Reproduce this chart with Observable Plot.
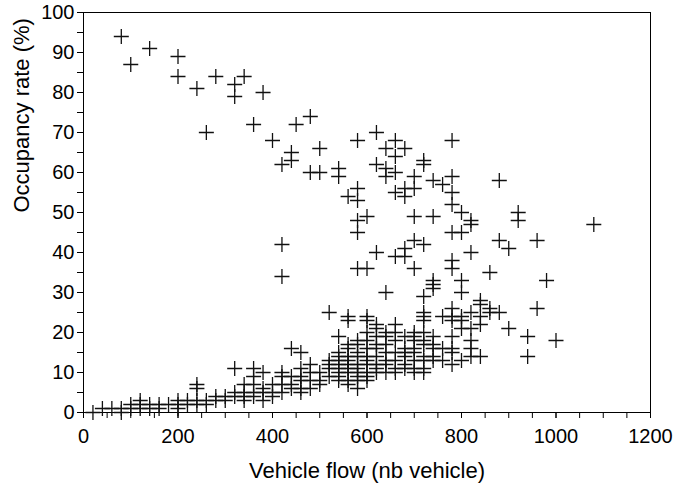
<!DOCTYPE html>
<html>
<head>
<meta charset="utf-8">
<script src="https://cdn.jsdelivr.net/npm/d3@7"></script>
<script src="https://cdn.jsdelivr.net/npm/@observablehq/plot@0.6"></script>
<style>
  html, body { margin: 0; padding: 0; background: #fff; }
</style>
</head>
<body>
<div id="chart"></div>
<script>
// [vehicle flow, occupancy rate %]
const congested = [
  [80,94],[100,87],[140,91],[200,89],[200,84],[240,81],[260,70],[280,84],[320,82],[320,79],
  [340,84],[380,80],[360,72],[400,68],[420,62],[440,65],[440,63],[450,72],[480,74],[500,66],
  [480,60],[500,60],[540,61],[540,59],[420,42],[420,34]
];
const transition = [
  [580,68],[620,70],[640,66],[660,68],[660,64],[680,66],[720,63],[720,62],[780,68],[620,62],
  [640,61],[640,59],[660,60],[700,59],[740,58],[760,57],[780,59],[780,55],[780,52],[800,50],
  [820,48],[820,47],[880,58],[920,50],[920,48],[1080,47],[560,54],[580,56],[580,53],[660,55],
  [680,56],[680,54],[700,56],[600,49],[580,48],[580,45],[700,49],[740,49],[780,45],[800,45],
  [700,43],[720,42],[880,43],[900,41],[960,43],[820,40],[680,41],[660,39],[680,39],[780,38],
  [780,36],[700,36],[580,36],[600,36],[620,40],[860,35],[980,33],[960,26],[1000,18],[940,19],
  [940,14],[900,21],[640,30],[720,29],[740,33],[740,32],[740,31],[800,33],[800,30],[840,28],
  [840,27],[860,26],[860,25],[880,25],[520,25],[540,19],[440,16],[460,15],[320,11],[360,11],
  [560,24],[560,23],[600,24],[600,23]
];
const freeFlowLow = [
  [20,0],[40,1],[60,1],[80,1],[80,0],[100,2],[100,1],[120,3],[120,2],[120,1],[140,2],[140,1],
  [160,2],[160,1],[180,2],[200,3],[200,2],[200,1],[220,3],[220,2],[240,7],[240,6],[240,3],[240,2],
  [260,3],[260,2],[280,4],[280,3],[300,4],[300,3],[320,5],[320,4],[340,7],[340,5],[340,4],[340,3],
  [360,9],[360,7],[360,5],[360,4],[380,10],[380,6],[380,5],[380,3],[400,7],[400,5],[400,4],
  [420,10],[420,9],[420,7],[420,5],[440,9],[440,7],[440,6],[460,11],[460,9],[460,8],[460,6],[460,5],
  [480,12],[480,10],[480,8],[480,6],[500,10],[500,8],[500,7],[520,13],[520,12],[520,11],[520,9]
];
const freeFlowHigh = [
  [540,8],[540,9],[540,10],[540,11],[540,12],[540,13],[540,14],[540,15],
  [560,7],[560,8],[560,10],[560,11],[560,12],[560,13],[560,14],[560,16],[560,17],
  [580,6],[580,8],[580,9],[580,10],[580,11],[580,12],[580,14],[580,15],[580,17],[580,18],
  [600,8],[600,9],[600,10],[600,12],[600,13],[600,14],[600,16],[600,18],[600,20],
  [620,10],[620,11],[620,12],[620,14],[620,16],[620,17],[620,19],[620,21],[620,22],
  [640,10],[640,12],[640,13],[640,15],[640,17],[640,19],[640,20],
  [660,10],[660,11],[660,13],[660,15],[660,18],[660,20],[660,22],
  [680,11],[680,12],[680,14],[680,15],[680,16],[680,19],
  [700,10],[700,11],[700,13],[700,15],[700,16],[700,18],[700,19],[700,20],
  [720,10],[720,11],[720,13],[720,14],[720,17],[720,18],[720,20],[720,23],[720,24],[720,25],
  [740,13],[740,14],[740,16],[740,17],[740,19],
  [760,13],[760,16],[760,24],
  [780,12],[780,15],[780,16],[780,19],[780,23],[780,24],[780,26],
  [800,13],[800,21],[800,23],[800,24],
  [820,14],[820,16],[820,18],[820,21],[820,25],
  [840,14],[840,22],[840,24]
];
const xLabelTicks = [0, 200, 400, 600, 800, 1000, 1200];
const yLabelTicks = [0, 10, 20, 30, 40, 50, 60, 70, 80, 90, 100];
const xMinorTicks = d3.range(0, 1201, 50);
const yMinorTicks = d3.range(0, 101, 5);

const points = [...congested, ...transition, ...freeFlowLow, ...freeFlowHigh]
  .map(([flow, occ]) => ({flow, occ}));

const chart = Plot.plot({
  width: 675,
  height: 483,
  marginLeft: 83,
  marginRight: 25,
  marginTop: 12,
  marginBottom: 71,
  style: {fontFamily: "'Liberation Sans', Arial, sans-serif", fontSize: "20px", color: "#000", background: "#fff"},
  x: {domain: [0, 1200]},
  y: {domain: [0, 100]},
  marks: [
    Plot.axisX({ticks: xMinorTicks, tickFormat: () => "", tickSize: 6, label: null}),
    Plot.axisX({ticks: xLabelTicks, tickFormat: d => String(d), tickSize: 6, tickPadding: 10, fontSize: 20, label: null}),
    Plot.axisY({ticks: yMinorTicks, tickFormat: () => "", tickSize: 6, label: null}),
    Plot.axisY({ticks: yLabelTicks, tickFormat: d => String(d), tickSize: 6, tickPadding: 3, fontSize: 20, label: null}),
    Plot.frame({stroke: "#000", strokeWidth: 1}),
    Plot.dot(points, {x: "flow", y: "occ", symbol: "plus", r: 4.9, stroke: "#111", strokeWidth: 1.3}),
    Plot.text(["Vehicle flow (nb vehicle)"], {frameAnchor: "bottom", lineAnchor: "middle", dy: 58, fontSize: 22, fill: "#000"}),
    Plot.text(["Occupancy rate (%)"], {frameAnchor: "left", lineAnchor: "middle", rotate: -90, dx: -62, fontSize: 22, fill: "#000"})
  ]
});
document.getElementById("chart").appendChild(chart);
</script>
</body>
</html>
